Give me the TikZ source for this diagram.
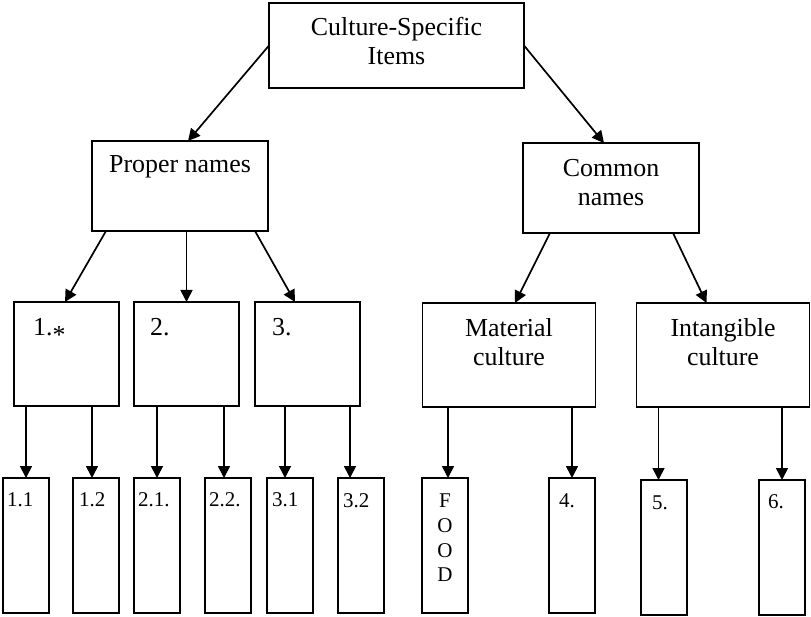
\documentclass[tikz,border=0pt]{standalone}
\usepackage{fontspec}
\setmainfont{Liberation Serif}
\usepackage{tikz}
\usetikzlibrary{
  arrows.meta, positioning
}
\tikzset{
  box/.style={
    draw, line width=1.8pt,
    inner sep=0pt, outer sep=0pt
  },
  rootbox/.style={box, minimum width=255pt, minimum height=85pt},
  catbox/.style ={box, minimum width=176pt, minimum height=90pt},
  numbox/.style ={box, minimum width=105pt, minimum height=104pt},
  culbox/.style ={box, minimum width=173pt, minimum height=104pt},
  subbox/.style ={box, minimum width=46pt,  minimum height=135pt},
  bigtxt/.style={
    inner sep=0pt, align=center,
    font=\fontsize{25.9}{29}\selectfont
  },
  smalltxt/.style={
    inner sep=0pt, align=center,
    font=\fontsize{21}{24.7}\selectfont
  },
  arr/.style={
    -{Triangle[length=12pt,width=12pt]},
    line width=1.7pt
  }
}

\begin{document}
\begin{tikzpicture}
        \path[use as bounding box] (0,0) rectangle (811pt,-617pt);

        %% ── Level 0: root ───────────────────────────────────────────────
        \node[rootbox] (root) at (396.5pt,-45.5pt) {};
        \node[bigtxt, below=14pt of root.north] (rootT) {Culture-Specific\\Items};

        %% ── Level 1: Proper / Common names ──────────────────────────────
        \node[catbox, below left=53pt and 1pt of root] (prop) {};
        \node[catbox, below right=55pt and -1pt of root] (comm) {};
        \node[bigtxt, below=32pt of prop.north, anchor=base] (propT) {Proper names};
        \node[bigtxt, below=16.5pt of comm.north] (commT) {Common\\names};

        %% ── Level 2 (left): 1. 2. 3. ────────────────────────────────────
        \node[numbox, below=71pt of prop, xshift=6.5pt] (num2) {};
        \node[numbox, left=15pt of num2] (num1) {};
        \node[numbox, right=16pt of num2] (num3) {};
        \node[bigtxt, below right=34pt and 19pt of num1.north west, anchor=base west] (num1T) {1.\raisebox{-0.3em}{*}};
        \node[bigtxt, below right=34pt and 16pt of num2.north west, anchor=base west] (num2T) {2.};
        \node[bigtxt, below right=34pt and 17pt of num3.north west, anchor=base west] (num3T) {3.};

        %% ── Level 2 (right): Material / Intangible culture ──────────────
        \node[culbox, below=70pt of comm, xshift=-102pt] (mat) {};
        \node[culbox, right=41pt of mat] (intg) {};
        \node[bigtxt, below=15pt of mat.north] (matT) {Material\\culture};
        \node[bigtxt, below=15pt of intg.north] (intgT) {Intangible\\culture};

        %% ── Level 3 (left): sub items ───────────────────────────────────
        \node[subbox, below=72pt of num1, xshift=-40.5pt] (s11) {};
        \node[subbox, right=24pt of s11] (s12) {};
        \node[subbox, right=15pt of s12] (s21) {};
        \node[subbox, right=25pt of s21] (s22) {};
        \node[subbox, right=16pt of s22] (s31) {};
        \node[subbox, right=25pt of s31] (s32) {};
        \node[smalltxt, below right=28pt and 4pt of s11.north west, anchor=base west] (s11T) {1.1};
        \node[smalltxt, below right=28pt and 6pt of s12.north west, anchor=base west] (s12T) {1.2};
        \node[smalltxt, below right=28pt and 4pt of s21.north west, anchor=base west] (s21T) {2.1.};
        \node[smalltxt, below right=28pt and 4pt of s22.north west, anchor=base west] (s22T) {2.2.};
        \node[smalltxt, below right=28pt and 5pt of s31.north west, anchor=base west] (s31T) {3.1};
        \node[smalltxt, below right=29pt and 5pt of s32.north west, anchor=base west] (s32T) {3.2};

        %% ── Level 3 (right): FOOD, 4. 5. 6. ─────────────────────────────
        \node[subbox, line width=2.8pt, below=71pt of mat, xshift=-64pt] (food) {};
        \node[subbox, right=81pt of food] (s4) {};
        \node[subbox, right=46pt of s4, yshift=-2pt] (s5) {};
        \node[subbox, right=72pt of s5] (s6) {};
        \node[smalltxt, below=15.7pt of food.north] (foodT) {F\\O\\O\\D};
        \node[smalltxt, below right=29pt and 10pt of s4.north west, anchor=base west] (s4T) {4.};
        \node[smalltxt, below right=29pt and 11pt of s5.north west, anchor=base west] (s5T) {5.};
        \node[smalltxt, below right=28pt and 9pt of s6.north west, anchor=base west] (s6T) {6.};

        %% ── Arrows ──────────────────────────────────────────────────────
        \draw[arr] (root.west) -- ([xshift=8pt]prop.north);
        \draw[arr] (root.east) -- ([xshift=-7pt]comm.north);

        \draw[arr] ([xshift=14pt]prop.south west) -- ([xshift=-1.5pt]num1.north);
        \draw[arr] (prop.south -| num2.north) -- (num2.north);
        \draw[arr] ([xshift=-13pt]prop.south east) -- ([xshift=-12.5pt]num3.north);
        \draw[arr] ([xshift=27pt]comm.south west) -- ([xshift=6pt]mat.north);
        \draw[arr] ([xshift=-26pt]comm.south east) -- ([xshift=-16.5pt]intg.north);

        % vertical drops into the sub items
        \draw[arr] (num1.south -| s11.north) -- (s11.north);
        \draw[arr] ([xshift=-4pt]s12.north |- num1.south) -- ([xshift=-4pt]s12.north);
        \draw[arr] (num2.south -| s21.north) -- (s21.north);
        \draw[arr] ([xshift=-4pt]s22.north |- num2.south) -- ([xshift=-4pt]s22.north);
        \draw[arr] ([xshift=-5pt]s31.north |- num3.south) -- ([xshift=-5pt]s31.north);
        \draw[arr] ([xshift=-11pt]s32.north |- num3.south) -- ([xshift=-11pt]s32.north);
        \draw[arr] ([xshift=3pt]food.north |- mat.south) -- ([xshift=3pt]food.north);
        \draw[arr] (mat.south -| s4.north) -- (s4.north);
        \draw[arr] ([xshift=-5.5pt]s5.north |- intg.south) -- ([xshift=-5.5pt]s5.north);
        \draw[arr] (intg.south -| s6.north) -- (s6.north);

\end{tikzpicture}
\end{document}
